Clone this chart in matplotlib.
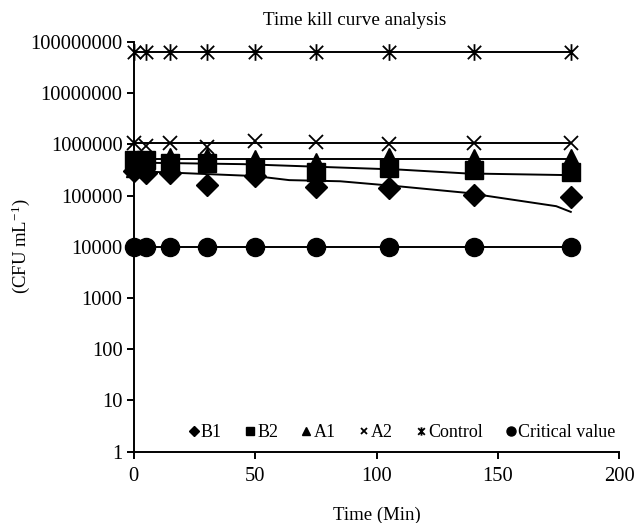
import matplotlib
matplotlib.use("Agg")
from matplotlib import pyplot as plt
from matplotlib.path import Path
from matplotlib.ticker import FixedLocator, FixedFormatter

plt.rcParams['font.family'] = ['Liberation Serif', 'DejaVu Serif']
plt.rcParams['mathtext.fontset'] = 'custom'
plt.rcParams['mathtext.rm'] = 'Liberation Serif'
plt.rcParams['mathtext.it'] = 'Liberation Serif:italic'

# tiempos de muestreo (min)
tiempo = [0, 5, 15, 30, 50, 75, 105, 140, 180]

# recuentos (CFU/mL)
b1 = [3.0e5, 2.7e5, 2.8e5, 1.63e5, 2.4e5, 1.5e5, 1.38e5, 1.03e5, 9.3e4]
b2 = [4.9e5, 4.9e5, 4.3e5, 4.4e5, 3.4e5, 2.9e5, 3.5e5, 3.2e5, 2.9e5]
a1 = [3.3e5, 4.5e5, 5.8e5, 6.0e5, 5.3e5, 4.8e5, 5.8e5, 5.6e5, 5.6e5]
a2 = [1.04e6, 9.3e5, 1.07e6, 8.9e5, 1.14e6, 1.1e6, 1.0e6, 1.07e6, 1.07e6]
control = [6.2e7] * 9
critico = [1.0e4] * 9

# lineas de tendencia
x_tend_b1 = [0, 8, 50, 64, 85, 110, 137, 174, 180]
y_tend_b1 = [3.2e5, 2.9e5, 2.4e5, 2.0e5, 1.9e5, 1.5e5, 1.13e5, 6.2e4, 4.8e4]
x_tend_b2 = [0, 45, 110, 137, 180]
y_tend_b2 = [4.4e5, 4.1e5, 3.2e5, 2.7e5, 2.5e5]
x_tend = [0, 180]
tend_a1 = [5.1e5, 5.1e5]
tend_a2 = [1.04e6, 1.04e6]
tend_control = [6.2e7, 6.2e7]
tend_critico = [1.0e4, 1.0e4]

yticks = [1, 10, 100, 1000, 10000, 100000, 1000000, 10000000, 100000000]
xticks = [0, 50, 100, 150, 200]

# asterisco tipo Excel: x con barra vertical
asterisco = Path([(-1, -1), (1, 1), (-1, 1), (1, -1), (0, -1.25), (0, 1.25)],
                 [Path.MOVETO, Path.LINETO, Path.MOVETO, Path.LINETO, Path.MOVETO, Path.LINETO])

fig = plt.figure(figsize=(6.4, 5.23), dpi=100)
ax = fig.add_axes([0.209, 0.1363, 0.7587, 0.7837])

lw = 1.4
ax.plot(x_tend_b1, y_tend_b1, color='black', lw=lw)
ax.plot(x_tend_b2, y_tend_b2, color='black', lw=lw)
ax.plot(x_tend, tend_a1, color='black', lw=lw)
ax.plot(x_tend, tend_a2, color='black', lw=lw)
ax.plot(x_tend, tend_control, color='black', lw=lw)
ax.plot(x_tend, tend_critico, color='black', lw=lw)

ax.plot(tiempo, b1, ls='none', marker='D', ms=11, color='black', label='B1', clip_on=False)
ax.plot(tiempo, b2, ls='none', marker='s', ms=12.5, color='black', label='B2', clip_on=False)
ax.plot(tiempo, a1, ls='none', marker='^', ms=12, color='black', label='A1', clip_on=False)
ax.plot(tiempo, a2, ls='none', marker='x', ms=10, mew=1.3, color='black', label='A2', clip_on=False)
ax.plot(tiempo, control, ls='none', marker=asterisco, ms=12, mew=1.3, color='black', label='Control', clip_on=False)
ax.plot(tiempo, critico, ls='none', marker='o', ms=13, color='black', label='Critical value', clip_on=False)

ax.set_yscale('log')
ax.set_ylim(1, 1e8)
ax.set_xlim(0, 200)
ax.yaxis.set_major_locator(FixedLocator(yticks))
ax.yaxis.set_major_formatter(FixedFormatter([str(v) for v in yticks]))
ax.yaxis.set_minor_locator(FixedLocator([]))
ax.set_xticks(xticks)

for s in ['top', 'right']:
    ax.spines[s].set_visible(False)
for s in ['left', 'bottom']:
    ax.spines[s].set_linewidth(1.4)
ax.tick_params(direction='out', length=5, width=1.4, labelsize=14.8, pad=3)
ax.tick_params(axis='x', pad=6)

ax.set_title('Time kill curve analysis', fontsize=13.8, pad=12, x=0.455)
ax.set_xlabel('Time (Min)', fontsize=13.5, labelpad=15)
ax.set_ylabel(r'(CFU mL$^{-1}$)', fontsize=13.5, labelpad=-1)

ax.legend(loc='lower center', bbox_to_anchor=(0.553, 0.0), ncol=6, frameon=False,
          fontsize=13, markerscale=0.5, handlelength=0.5, handletextpad=0.15,
          columnspacing=1.3, borderaxespad=0.2)

fig.savefig('out.png', dpi=100)
